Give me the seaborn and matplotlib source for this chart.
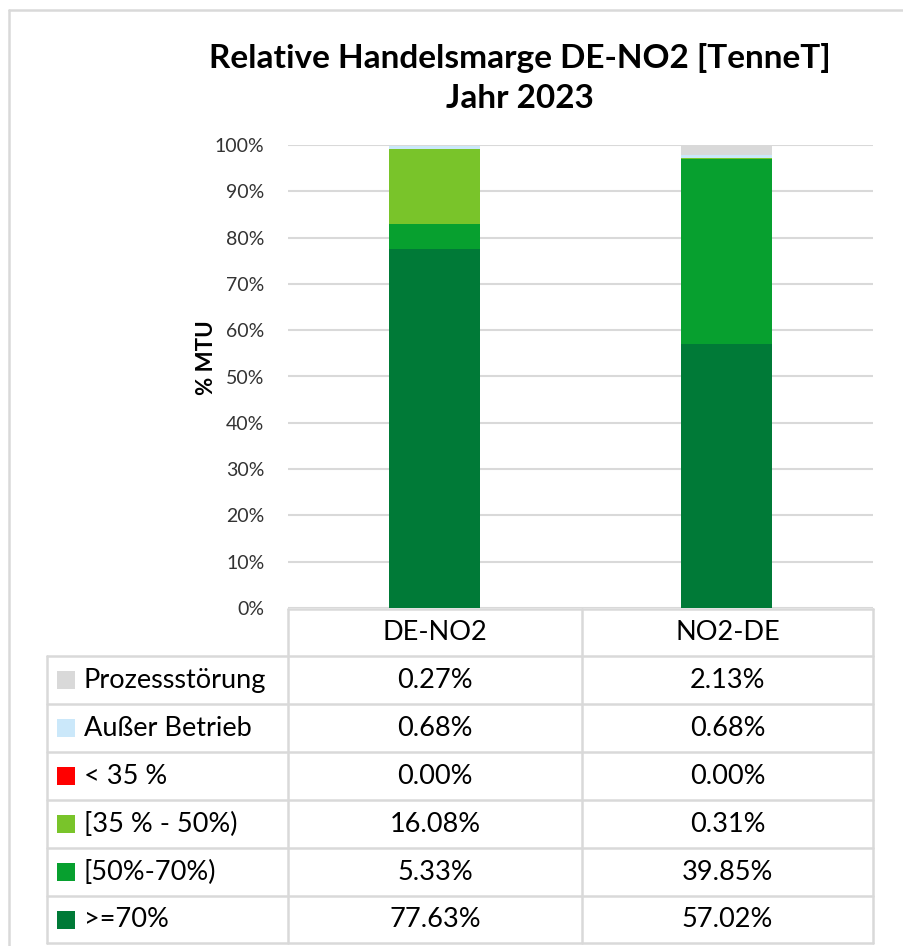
import numpy as np
import pandas as pd
import matplotlib
matplotlib.use('Agg')
import matplotlib.pyplot as plt
from matplotlib.ticker import PercentFormatter
import seaborn as sns

# --- Daten ---
richtungen = ['DE-NO2', 'NO2-DE']
# Reihenfolge von unten nach oben im Stapel
kategorien = ['>=70%', '[50%-70%)', '[35 % - 50%)', '< 35 %', 'Außer Betrieb', 'Prozessstörung']
werte_de_no2 = [77.63, 5.33, 16.08, 0.00, 0.68, 0.27]
werte_no2_de = [57.02, 39.85, 0.31, 0.00, 0.68, 2.13]
farben = ['#007A37', '#07A02F', '#79C42A', '#FF0000', '#CBE8FA', '#D9D9D9']

titel = 'Relative Handelsmarge DE-NO2 [TenneT]\nJahr 2023'

sns.set_theme(style='white')
plt.rcParams['font.family'] = ['Lato', 'DejaVu Sans']

W, H = 904, 946
fig = plt.figure(figsize=(W / 100, H / 100), dpi=100)

# Plotbereich in Pixeln
x0, x1, y_top, y_bot = 288, 873, 145, 608
ax = fig.add_axes([x0 / W, 1 - y_bot / H, (x1 - x0) / W, (y_bot - y_top) / H])

df = pd.DataFrame({'Kategorie': kategorien, 'DE-NO2': werte_de_no2, 'NO2-DE': werte_no2_de})
unten = np.zeros(len(richtungen))
for i, kat in enumerate(kategorien):
    hoehe = df.loc[i, richtungen].to_numpy(dtype=float)
    sns.barplot(x=richtungen, y=hoehe, bottom=unten, color=farben[i], width=0.31,
                saturation=1, linewidth=0, ax=ax)
    unten = unten + hoehe

ax.set_ylim(0, 100)
ax.set_xlim(-0.5, 1.5)
ax.set_yticks(np.arange(0, 101, 10))
ax.yaxis.set_major_formatter(PercentFormatter(decimals=0))
ax.yaxis.grid(True, color='#D9D9D9', linewidth=1.5)
ax.set_axisbelow(True)
ax.set_xticks([])
ax.set_xlabel('')
ax.tick_params(axis='y', length=0, pad=17, labelsize=14, labelcolor='#333333')
for s in ax.spines.values():
    s.set_visible(False)
ax.set_ylabel('% MTU', fontsize=16, fontweight='bold', color='black')
ax.yaxis.set_label_coords(-0.122, 0.54)

fig.text(520 / W, 1 - 78 / H, titel, ha='center', va='center', fontsize=24,
         fontweight='bold', linespacing=1.45, color='black')

# --- Datentabelle unter dem Diagramm ---
tab = fig.add_axes([0, 0, 1, 1], zorder=-1)
tab.set_xlim(0, W)
tab.set_ylim(H, 0)
tab.axis('off')
lc = '#D9D9D9'
lw = 1.8

# äußerer Rahmen
tab.plot([9, W], [10, 10], color=lc, lw=lw)
tab.plot([9, 9], [10, H], color=lc, lw=lw)

spalten = [47, 288, 582, 873]
zeilen = [609, 656, 704, 752, 800, 848, 896, 943]
# Kopfzeile
tab.plot([288, 873], [zeilen[0], zeilen[0]], color=lc, lw=lw)
for x in spalten[1:]:
    tab.plot([x, x], [zeilen[0], zeilen[-1]], color=lc, lw=lw)
tab.plot([47, 47], [zeilen[1], zeilen[-1]], color=lc, lw=lw)
for y in zeilen[1:]:
    tab.plot([47, 873], [y, y], color=lc, lw=lw)

fs = 19.5
for j, r in enumerate(richtungen):
    xm = (spalten[j + 1] + spalten[j + 2]) / 2
    tab.text(xm, (zeilen[0] + zeilen[1]) / 2, r, ha='center', va='center', fontsize=fs, color='black')

for k, i in enumerate(range(len(kategorien) - 1, -1, -1)):
    yt, yb = zeilen[k + 1], zeilen[k + 2]
    ym = (yt + yb) / 2
    tab.add_patch(plt.Rectangle((57, ym - 9), 18, 18, color=farben[i], lw=0))
    tab.text(84, ym, kategorien[i], ha='left', va='center', fontsize=fs, color='black')
    for j, r in enumerate(richtungen):
        xm = (spalten[j + 1] + spalten[j + 2]) / 2
        tab.text(xm, ym, f'{df.loc[i, r]:.2f}%', ha='center', va='center', fontsize=fs, color='black')

fig.savefig('out.png', dpi=100, facecolor='white')
